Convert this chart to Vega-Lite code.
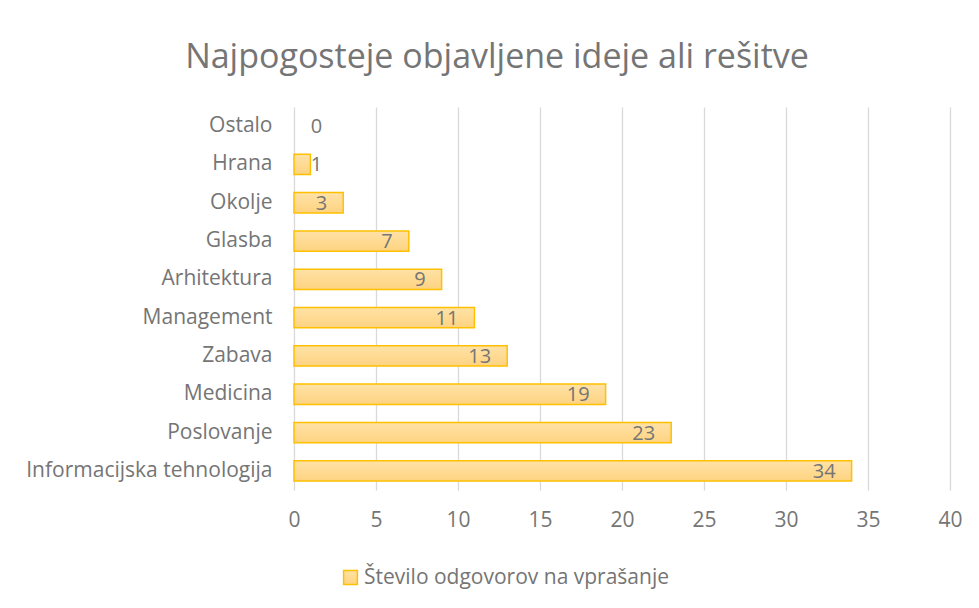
{
  "$schema": "https://vega.github.io/schema/vega-lite/v6.json",
  "autosize": "none",
  "width": 656,
  "height": 383,
  "padding": {"left": 294, "top": 107, "right": 29, "bottom": 118},
  "background": "white",
  "config": {
    "font": "Open Sans",
    "view": {"stroke": null},
    "axis": {"labelFont": "Open Sans", "labelColor": "#757575", "labelFontSize": 21, "labelLimit": 0, "domain": false, "ticks": false, "title": null}
  },
  "title": {
    "text": "Najpogosteje objavljene ideje ali rešitve",
    "fontSize": 34,
    "fontWeight": "normal",
    "color": "#757575",
    "font": "Open Sans",
    "anchor": "middle",
    "dx": -125,
    "offset": 32
  },
  "data": {
    "values": [
      {"kategorija": "Ostalo", "vrednost": 0, "serija": "Število odgovorov na vprašanje"},
      {"kategorija": "Hrana", "vrednost": 1, "serija": "Število odgovorov na vprašanje"},
      {"kategorija": "Okolje", "vrednost": 3, "serija": "Število odgovorov na vprašanje"},
      {"kategorija": "Glasba", "vrednost": 7, "serija": "Število odgovorov na vprašanje"},
      {"kategorija": "Arhitektura", "vrednost": 9, "serija": "Število odgovorov na vprašanje"},
      {"kategorija": "Management", "vrednost": 11, "serija": "Število odgovorov na vprašanje"},
      {"kategorija": "Zabava", "vrednost": 13, "serija": "Število odgovorov na vprašanje"},
      {"kategorija": "Medicina", "vrednost": 19, "serija": "Število odgovorov na vprašanje"},
      {"kategorija": "Poslovanje", "vrednost": 23, "serija": "Število odgovorov na vprašanje"},
      {"kategorija": "Informacijska tehnologija", "vrednost": 34, "serija": "Število odgovorov na vprašanje"}
    ]
  },
  "encoding": {
    "y": {
      "field": "kategorija",
      "type": "nominal",
      "sort": null,
      "scale": {"paddingInner": 0.47, "paddingOuter": 0.235},
      "axis": {"labelPadding": 22, "grid": false}
    }
  },
  "layer": [
    {
      "mark": {
        "type": "bar",
        "fill": {
          "gradient": "linear",
          "x1": 0, "y1": 0, "x2": 0, "y2": 1,
          "stops": [
            {"offset": 0, "color": "#ffe2a6"},
            {"offset": 1, "color": "#fed381"}
          ]
        },
        "strokeWidth": 1.5
      },
      "encoding": {
        "x": {
          "field": "vrednost",
          "type": "quantitative",
          "scale": {"domain": [0, 40]},
          "axis": {"values": [0, 5, 10, 15, 20, 25, 30, 35, 40], "labelFlush": false, "labelPadding": 19, "gridColor": "#d9d9d9", "gridWidth": 1.3}
        },
        "stroke": {
          "field": "serija",
          "type": "nominal",
          "scale": {"range": ["#ffc000"]},
          "legend": {
            "title": null,
            "orient": "none",
            "legendX": 46,
            "legendY": 460,
            "symbolType": "square",
            "symbolSize": 190,
            "symbolFillColor": "#fed995",
            "symbolStrokeWidth": 1.5,
            "labelFontSize": 21,
            "labelColor": "#757575",
            "labelFont": "Open Sans",
            "labelLimit": 0,
            "labelOffset": 3
          }
        },
        "strokeOpacity": {
          "condition": {"test": "datum.vrednost == 0", "value": 0},
          "value": 1
        }
      }
    },
    {
      "transform": [{"calculate": "max(datum.vrednost, 2.7)", "as": "pozicija"}],
      "mark": {"type": "text", "align": "right", "baseline": "middle", "dx": -16, "dy": 1, "fontSize": 20, "color": "#757575", "font": "Open Sans"},
      "encoding": {
        "x": {"field": "pozicija", "type": "quantitative"},
        "text": {"field": "vrednost", "type": "quantitative"}
      }
    }
  ]
}
